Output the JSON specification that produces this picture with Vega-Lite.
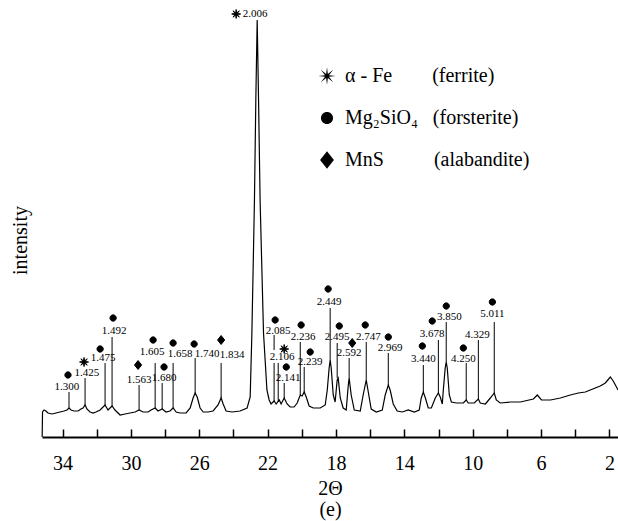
{
  "$schema": "https://vega.github.io/schema/vega-lite/v6.json",
  "width": 576,
  "height": 437,
  "autosize": "none",
  "padding": {"left": 42, "top": 0, "right": 0, "bottom": 84},
  "config": {"view": {"stroke": null}, "font": "Liberation Serif, Times New Roman, serif"},
  "datasets": {
    "curve": [
      {"t": 35.19, "I": 3}, {"t": 35.17, "I": 28}, {"t": 35.08, "I": 30}, {"t": 34.97, "I": 29}, {"t": 34.85, "I": 27},
      {"t": 34.61, "I": 26}, {"t": 34.38, "I": 27}, {"t": 34.15, "I": 28}, {"t": 33.91, "I": 29}, {"t": 33.74, "I": 30},
      {"t": 33.62, "I": 32}, {"t": 33.5, "I": 30}, {"t": 33.33, "I": 29}, {"t": 33.09, "I": 29}, {"t": 32.92, "I": 31},
      {"t": 32.8, "I": 32}, {"t": 32.68, "I": 35}, {"t": 32.57, "I": 31}, {"t": 32.39, "I": 28}, {"t": 32.21, "I": 27},
      {"t": 32.04, "I": 28}, {"t": 31.8, "I": 30}, {"t": 31.51, "I": 35}, {"t": 31.34, "I": 30}, {"t": 31.1, "I": 34},
      {"t": 30.93, "I": 30}, {"t": 30.63, "I": 25}, {"t": 30.34, "I": 26}, {"t": 30.05, "I": 27}, {"t": 29.75, "I": 28},
      {"t": 29.52, "I": 30}, {"t": 29.29, "I": 28}, {"t": 28.99, "I": 28}, {"t": 28.82, "I": 30}, {"t": 28.58, "I": 32},
      {"t": 28.41, "I": 29}, {"t": 28.17, "I": 31}, {"t": 27.94, "I": 28}, {"t": 27.71, "I": 29}, {"t": 27.53, "I": 32},
      {"t": 27.35, "I": 28}, {"t": 27.12, "I": 27}, {"t": 26.77, "I": 27}, {"t": 26.53, "I": 32}, {"t": 26.36, "I": 42},
      {"t": 26.24, "I": 47}, {"t": 26.12, "I": 43}, {"t": 25.95, "I": 32}, {"t": 25.77, "I": 28}, {"t": 25.48, "I": 28},
      {"t": 25.19, "I": 29}, {"t": 24.9, "I": 35}, {"t": 24.72, "I": 42}, {"t": 24.6, "I": 36}, {"t": 24.43, "I": 29},
      {"t": 24.08, "I": 28}, {"t": 23.61, "I": 29}, {"t": 23.2, "I": 32}, {"t": 23.02, "I": 43}, {"t": 22.92, "I": 107},
      {"t": 22.77, "I": 240}, {"t": 22.69, "I": 340}, {"t": 22.61, "I": 420}, {"t": 22.53, "I": 340}, {"t": 22.44, "I": 240},
      {"t": 22.24, "I": 107}, {"t": 22.04, "I": 50}, {"t": 21.91, "I": 40}, {"t": 21.8, "I": 36}, {"t": 21.62, "I": 39},
      {"t": 21.5, "I": 36}, {"t": 21.32, "I": 40}, {"t": 21.21, "I": 36}, {"t": 21.03, "I": 42}, {"t": 20.86, "I": 36},
      {"t": 20.68, "I": 33}, {"t": 20.45, "I": 33}, {"t": 20.27, "I": 37}, {"t": 20.09, "I": 45}, {"t": 19.98, "I": 44},
      {"t": 19.86, "I": 48}, {"t": 19.74, "I": 43}, {"t": 19.57, "I": 34}, {"t": 19.33, "I": 32}, {"t": 18.92, "I": 32},
      {"t": 18.63, "I": 35}, {"t": 18.51, "I": 50}, {"t": 18.4, "I": 72}, {"t": 18.34, "I": 80}, {"t": 18.28, "I": 72},
      {"t": 18.16, "I": 45}, {"t": 18.05, "I": 38}, {"t": 17.93, "I": 60}, {"t": 17.87, "I": 62}, {"t": 17.75, "I": 42},
      {"t": 17.58, "I": 32}, {"t": 17.4, "I": 30}, {"t": 17.28, "I": 55}, {"t": 17.23, "I": 62}, {"t": 17.11, "I": 45},
      {"t": 16.93, "I": 30}, {"t": 16.58, "I": 29}, {"t": 16.41, "I": 45}, {"t": 16.23, "I": 60}, {"t": 16.11, "I": 48},
      {"t": 15.94, "I": 31}, {"t": 15.64, "I": 28}, {"t": 15.29, "I": 30}, {"t": 15.12, "I": 45}, {"t": 14.94, "I": 55},
      {"t": 14.83, "I": 50}, {"t": 14.65, "I": 36}, {"t": 14.42, "I": 29}, {"t": 14.12, "I": 28}, {"t": 13.77, "I": 30},
      {"t": 13.42, "I": 28}, {"t": 13.13, "I": 30}, {"t": 13.01, "I": 42}, {"t": 12.89, "I": 48}, {"t": 12.77, "I": 42},
      {"t": 12.6, "I": 32}, {"t": 12.42, "I": 32}, {"t": 12.19, "I": 42}, {"t": 12.01, "I": 47}, {"t": 11.9, "I": 43},
      {"t": 11.78, "I": 36}, {"t": 11.72, "I": 50}, {"t": 11.61, "I": 72}, {"t": 11.55, "I": 78}, {"t": 11.49, "I": 72},
      {"t": 11.37, "I": 45}, {"t": 11.25, "I": 38}, {"t": 10.96, "I": 37}, {"t": 10.73, "I": 37}, {"t": 10.55, "I": 37},
      {"t": 10.38, "I": 40}, {"t": 10.26, "I": 37}, {"t": 9.91, "I": 37}, {"t": 9.67, "I": 41}, {"t": 9.56, "I": 37},
      {"t": 9.26, "I": 36}, {"t": 8.97, "I": 42}, {"t": 8.74, "I": 47}, {"t": 8.62, "I": 40}, {"t": 8.39, "I": 37},
      {"t": 7.8, "I": 38}, {"t": 7.21, "I": 38}, {"t": 6.45, "I": 41}, {"t": 6.22, "I": 45}, {"t": 5.98, "I": 40},
      {"t": 5.45, "I": 40}, {"t": 4.87, "I": 42}, {"t": 4.29, "I": 45}, {"t": 3.82, "I": 47}, {"t": 3.41, "I": 48},
      {"t": 3.12, "I": 50}, {"t": 2.54, "I": 54}, {"t": 2.24, "I": 57}, {"t": 1.95, "I": 63}, {"t": 1.78, "I": 59},
      {"t": 1.59, "I": 53}, {"t": 1.5, "I": 50}
    ],
    "rules": [
      {"t": 33.62, "I": 48, "I2": 32}, {"t": 32.68, "I": 62, "I2": 35}, {"t": 31.51, "I": 77, "I2": 35},
      {"t": 31.1, "I": 103, "I2": 34}, {"t": 29.52, "I": 55, "I2": 30}, {"t": 28.58, "I": 77, "I2": 32},
      {"t": 28.17, "I": 57, "I2": 31}, {"t": 27.53, "I": 77, "I2": 32}, {"t": 26.24, "I": 82, "I2": 47},
      {"t": 24.72, "I": 77, "I2": 42}, {"t": 21.62, "I": 105, "I2": 90}, {"t": 21.62, "I": 77, "I2": 39},
      {"t": 21.38, "I": 77, "I2": 38}, {"t": 21.03, "I": 57, "I2": 42}, {"t": 20.09, "I": 98, "I2": 45},
      {"t": 19.86, "I": 73, "I2": 48}, {"t": 18.34, "I": 132, "I2": 80}, {"t": 17.93, "I": 97, "I2": 62},
      {"t": 17.23, "I": 82, "I2": 62}, {"t": 16.23, "I": 98, "I2": 60}, {"t": 14.94, "I": 87, "I2": 55},
      {"t": 12.89, "I": 75, "I2": 48}, {"t": 12.01, "I": 100, "I2": 47}, {"t": 11.55, "I": 118, "I2": 78},
      {"t": 10.38, "I": 77, "I2": 40}, {"t": 9.67, "I": 100, "I2": 41}, {"t": 8.74, "I": 118, "I2": 47}
    ],
    "markers": [
      {"phase": "Mg2SiO4", "t": 33.68, "I": 65}, {"phase": "Mg2SiO4", "t": 31.8, "I": 91}, {"phase": "Mg2SiO4", "t": 31.04, "I": 122},
      {"phase": "Mg2SiO4", "t": 28.7, "I": 100}, {"phase": "Mg2SiO4", "t": 28.06, "I": 73}, {"phase": "Mg2SiO4", "t": 27.53, "I": 97},
      {"phase": "Mg2SiO4", "t": 26.3, "I": 96}, {"phase": "Mg2SiO4", "t": 21.56, "I": 120}, {"phase": "Mg2SiO4", "t": 20.91, "I": 73},
      {"phase": "Mg2SiO4", "t": 20.04, "I": 115}, {"phase": "Mg2SiO4", "t": 19.51, "I": 88}, {"phase": "Mg2SiO4", "t": 18.46, "I": 151},
      {"phase": "Mg2SiO4", "t": 17.81, "I": 114}, {"phase": "Mg2SiO4", "t": 16.29, "I": 115}, {"phase": "Mg2SiO4", "t": 14.94, "I": 103},
      {"phase": "Mg2SiO4", "t": 12.95, "I": 94}, {"phase": "Mg2SiO4", "t": 12.37, "I": 119}, {"phase": "Mg2SiO4", "t": 11.55, "I": 134},
      {"phase": "Mg2SiO4", "t": 10.55, "I": 92}, {"phase": "Mg2SiO4", "t": 8.85, "I": 138},
      {"phase": "Fe", "t": 32.74, "I": 78}, {"phase": "Fe", "t": 23.84, "I": 426}, {"phase": "Fe", "t": 21.03, "I": 91},
      {"phase": "MnS", "t": 29.58, "I": 75}, {"phase": "MnS", "t": 24.72, "I": 100}, {"phase": "MnS", "t": 17.05, "I": 97}
    ],
    "labels": [
      {"d": "1.300", "t": 33.74, "I": 53}, {"d": "1.425", "t": 32.57, "I": 67}, {"d": "1.475", "t": 31.63, "I": 82},
      {"d": "1.492", "t": 30.98, "I": 109}, {"d": "1.563", "t": 29.52, "I": 60}, {"d": "1.605", "t": 28.76, "I": 88},
      {"d": "1.680", "t": 28.06, "I": 62}, {"d": "1.658", "t": 27.12, "I": 86}, {"d": "1.740", "t": 25.54, "I": 86},
      {"d": "1.834", "t": 24.08, "I": 85}, {"d": "2.006", "t": 22.73, "I": 426}, {"d": "2.085", "t": 21.38, "I": 109},
      {"d": "2.106", "t": 21.15, "I": 83}, {"d": "2.141", "t": 20.8, "I": 62}, {"d": "2.236", "t": 19.92, "I": 103},
      {"d": "2.239", "t": 19.51, "I": 78}, {"d": "2.449", "t": 18.4, "I": 138}, {"d": "2.495", "t": 17.93, "I": 103},
      {"d": "2.592", "t": 17.23, "I": 87}, {"d": "2.747", "t": 16.11, "I": 103}, {"d": "2.969", "t": 14.83, "I": 92},
      {"d": "3.440", "t": 12.89, "I": 81}, {"d": "3.678", "t": 12.37, "I": 106}, {"d": "3.850", "t": 11.37, "I": 123},
      {"d": "4.250", "t": 10.55, "I": 81}, {"d": "4.329", "t": 9.73, "I": 105}, {"d": "5.011", "t": 8.85, "I": 126}
    ]
  },
  "encoding": {
    "x": {
      "field": "t", "type": "quantitative",
      "scale": {"domain": [1.5, 35.2], "reverse": true, "nice": false, "zero": false},
      "axis": {
        "values": [34, 32, 30, 28, 26, 24, 22, 20, 18, 16, 14, 12, 10, 8, 6, 4, 2],
        "labelExpr": "datum.value % 4 == 2 ? datum.label : ''",
        "grid": false, "domainColor": "black", "domainWidth": 2,
        "tickColor": "black", "tickWidth": 1.5, "tickSize": -8,
        "labelFont": "Liberation Serif, Times New Roman, serif", "labelFontSize": 20, "labelColor": "black",
        "labelPadding": 24, "labelFlush": false, "labelOverlap": false,
        "title": ["2Θ", "(e)"], "titleFont": "Liberation Serif, Times New Roman, serif", "titleFontSize": 20,
        "titleFontWeight": "normal", "titleColor": "black", "titleLineHeight": 21, "titlePadding": 5
      }
    },
    "y": {
      "field": "I", "type": "quantitative",
      "scale": {"domain": [3, 440], "nice": false, "zero": false},
      "axis": {
        "domain": false, "ticks": false, "labels": false, "grid": false,
        "title": "intensity", "titleFont": "Liberation Serif, Times New Roman, serif", "titleFontSize": 20,
        "titleFontWeight": "normal", "titleColor": "black",
        "titleX": -22, "titleY": 240, "titleAngle": -90, "titleAlign": "center", "titleBaseline": "middle"
      }
    }
  },
  "layer": [
    {
      "data": {"name": "curve"},
      "mark": {"type": "line", "color": "black", "strokeWidth": 1.2}
    },
    {
      "data": {"name": "rules"},
      "mark": {"type": "rule", "color": "black", "strokeWidth": 1},
      "encoding": {"y2": {"field": "I2"}}
    },
    {
      "data": {"name": "markers"},
      "mark": {"type": "point", "filled": true, "color": "black", "stroke": "black", "strokeWidth": 1, "size": 80, "opacity": 1},
      "encoding": {
        "shape": {
          "field": "phase", "type": "nominal",
          "scale": {
            "domain": ["Fe", "Mg2SiO4", "MnS"],
            "range": [
              "M0,-1L0.1,-0.23L0.71,-0.71L0.23,-0.1L1,0L0.23,0.1L0.71,0.71L0.1,0.23L0,1L-0.1,0.23L-0.71,0.71L-0.23,0.1L-1,0L-0.23,-0.1L-0.71,-0.71L-0.1,-0.23Z",
              "M-0.7,0A0.7,0.7,0,1,0,0.7,0A0.7,0.7,0,1,0,-0.7,0Z",
              "M0,-1L0.8,0L0,1L-0.8,0Z"
            ]
          },
          "legend": {
            "orient": "none", "legendX": 275, "legendY": 66, "title": null, "padding": 0,
            "labelFont": "Liberation Serif, Times New Roman, serif", "labelFontSize": 20, "labelColor": "black", "labelLimit": 400,
            "symbolSize": 300, "symbolFillColor": "black", "symbolStrokeColor": "black", "symbolStrokeWidth": 0.5,
            "symbolOpacity": 1, "rowPadding": 22, "labelOffset": 8,
            "labelExpr": "datum.label == 'Fe' ? 'α - Fe\u00a0\u00a0\u00a0\u00a0\u00a0\u00a0\u00a0\u00a0(ferrite)' : datum.label == 'Mg2SiO4' ? 'Mg₂SiO₄\u00a0\u00a0\u00a0(forsterite)' : 'MnS\u00a0\u00a0\u00a0\u00a0\u00a0\u00a0\u00a0\u00a0\u00a0\u00a0(alabandite)'"
          }
        }
      }
    },
    {
      "data": {"name": "labels"},
      "mark": {"type": "text", "font": "Liberation Serif, Times New Roman, serif", "fontSize": 11, "color": "black", "align": "center", "baseline": "middle"},
      "encoding": {"text": {"field": "d", "type": "nominal"}}
    }
  ]
}
